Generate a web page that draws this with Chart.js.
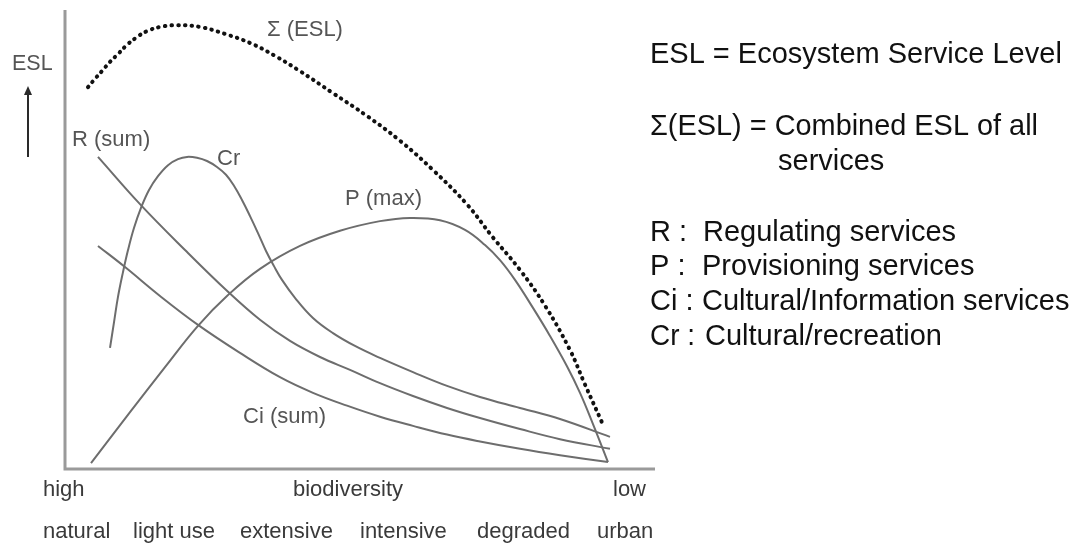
<!DOCTYPE html>
<html lang="en">
<head>
<meta charset="UTF-8">
<title>Ecosystem Service Level</title>
<script src="https://cdn.jsdelivr.net/npm/chart.js"></script>
<style>
  * { margin: 0; padding: 0; }
  body { background: #fff; }
  .chartBox { width: 1081px; height: 544px; position: relative; }
</style>
</head>
<body>
<div class="chartBox">
  <canvas id="myChart"></canvas>
</div>
<script>
// biodiversity gradient (0 = high, 100 = low) and service level (0..100)
const sumX = [3.9, 5.08, 6.27, 7.63, 8.98, 10.51, 12.2, 13.9, 16.1, 19.0, 22.9, 27.1, 31.4, 35.6, 39.8, 45.4, 51.2, 56.8, 62.4, 68.1, 72.5, 77.1, 81.4, 85.6, 88.1, 91.0];
const sumY = [83.2, 85.0, 86.7, 88.7, 90.4, 92.4, 94.1, 95.4, 96.3, 96.7, 96.3, 94.8, 92.8, 90.0, 86.7, 81.9, 76.9, 71.5, 65.1, 57.7, 50.5, 43.4, 35.5, 25.9, 18.5, 10.2];

const crX = [7.63, 8.31, 8.98, 9.83, 10.68, 11.69, 12.88, 14.24, 15.76, 17.46, 19.15, 20.68, 22.37, 24.07, 25.76, 27.29, 28.64, 30.0, 31.36, 32.71, 34.07, 35.42, 36.78, 38.98, 42.03, 45.42, 49.15, 53.39, 58.98, 64.75, 70.34, 77.12, 83.9, 92.37];
const crY = [26.4, 32.0, 37.5, 42.9, 47.7, 52.5, 56.9, 60.8, 63.8, 66.2, 67.5, 68.0, 67.8, 67.1, 65.8, 64.1, 61.7, 58.6, 55.1, 51.4, 47.5, 44.2, 41.2, 37.3, 32.9, 29.6, 26.8, 24.2, 21.1, 18.1, 15.7, 13.3, 10.9, 7.0];

const rX = [5.59, 12.71, 20.34, 27.63, 33.05, 38.14, 43.22, 48.31, 53.39, 58.98, 64.75, 70.34, 77.12, 83.9, 92.37];
const rY = [68.0, 57.7, 47.7, 38.6, 32.5, 27.9, 24.4, 21.6, 18.7, 15.9, 13.3, 11.1, 8.7, 6.5, 4.4];

const ciX = [5.59, 10.17, 16.1, 22.54, 29.66, 36.44, 42.03, 47.8, 53.39, 58.98, 64.75, 70.34, 77.12, 83.9, 92.03];
const ciY = [48.6, 44.0, 37.7, 31.4, 25.3, 20.0, 16.6, 13.8, 11.4, 9.4, 7.5, 6.0, 4.4, 3.0, 1.5];

const pX = [4.41, 11.02, 16.95, 22.54, 27.63, 33.05, 39.83, 46.61, 53.39, 58.47, 63.56, 67.8, 71.19, 73.73, 76.27, 79.32, 82.2, 85.08, 87.29, 89.49, 92.03];
const pY = [1.3, 12.4, 22.2, 31.2, 37.9, 43.6, 48.6, 51.9, 54.0, 54.7, 54.2, 52.1, 48.8, 45.5, 41.2, 35.1, 29.0, 22.4, 16.6, 9.8, 1.5];

const seriesNames = ['Cr', 'R (sum)', 'Ci (sum)', 'P (max)', 'Σ (ESL)'];
const stageLabels = ['natural', 'light use', 'extensive', 'intensive', 'degraded', 'urban'];
const gradientLabels = ['high', 'biodiversity', 'low'];
const legendLines = [
  ['ESL = Ecosystem Service Level', ''],
  ['Σ(ESL) = Combined ESL of all', ''],
  ['', 'services'],
  ['R :', 'Regulating services'],
  ['P :', 'Provisioning services'],
  ['Ci :', 'Cultural/Information services'],
  ['Cr :', 'Cultural/recreation']
];

function pts(xs, ys) {
  return xs.map((x, i) => ({ x: x, y: ys[i] }));
}

const gray = '#6d6d6d';
const FONT = '"Liberation Sans", Arial, sans-serif';

function grayLine(label, data) {
  return {
    label: label,
    data: data,
    borderColor: gray,
    borderWidth: 2,
    pointRadius: 0,
    tension: 0.4,
    fill: false
  };
}

// axes, arrow and all text
const decorations = {
  id: 'decorations',
  beforeDatasetsDraw(chart) {
    const ctx = chart.ctx;
    const xs = chart.scales.x, ys = chart.scales.y;
    ctx.save();
    ctx.strokeStyle = '#9a9a9a';
    ctx.lineWidth = 3;
    ctx.beginPath();
    ctx.moveTo(xs.getPixelForValue(0), ys.getPixelForValue(100));
    ctx.lineTo(xs.getPixelForValue(0), ys.getPixelForValue(0));
    ctx.lineTo(xs.getPixelForValue(100), ys.getPixelForValue(0));
    ctx.stroke();
    ctx.restore();
  },
  afterDraw(chart) {
    const ctx = chart.ctx;
    ctx.save();

    // ESL arrow
    ctx.strokeStyle = '#2a2a2a';
    ctx.fillStyle = '#2a2a2a';
    ctx.lineWidth = 2;
    ctx.beginPath();
    ctx.moveTo(28, 157);
    ctx.lineTo(28, 92);
    ctx.stroke();
    ctx.beginPath();
    ctx.moveTo(28, 86);
    ctx.lineTo(24, 95);
    ctx.lineTo(32, 95);
    ctx.closePath();
    ctx.fill();

    // chart labels
    ctx.fillStyle = '#555';
    ctx.textBaseline = 'alphabetic';
    ctx.font = '21.5px ' + FONT;
    ctx.fillText('ESL', 12, 70);
    ctx.font = '22px ' + FONT;
    ctx.fillText(seriesNames[4], 267, 36);
    ctx.fillText(seriesNames[1], 72, 146);
    ctx.fillText(seriesNames[0], 217, 165);
    ctx.fillText(seriesNames[3], 345, 205);
    ctx.fillText(seriesNames[2], 243, 423);

    // bottom texts
    ctx.fillStyle = '#3a3a3a';
    ctx.font = '22px ' + FONT;
    const gx = [43, 293, 613];
    gradientLabels.forEach((t, i) => ctx.fillText(t, gx[i], 496));
    const sx = [43, 133, 240, 360, 477, 597];
    stageLabels.forEach((t, i) => ctx.fillText(t, sx[i], 538));

    // legend text on the right
    ctx.fillStyle = '#111';
    ctx.font = '29px ' + FONT;
    const by = [63, 135, 170, 241, 275, 310, 345];
    const w1 = [417, 388, 0, 40, 40, 45, 45];
    const x2 = [0, 0, 778, 703, 702, 702, 705];
    const w2 = [0, 0, 111, 257, 278, 373, 238];
    legendLines.forEach((ln, i) => {
      if (ln[0]) ctx.fillText(ln[0], 650, by[i], w1[i]);
      if (ln[1]) ctx.fillText(ln[1], x2[i], by[i], w2[i]);
    });
    ctx.restore();
  }
};

const data = {
  datasets: [
    grayLine(seriesNames[0], pts(crX, crY)),
    grayLine(seriesNames[1], pts(rX, rY)),
    grayLine(seriesNames[2], pts(ciX, ciY)),
    grayLine(seriesNames[3], pts(pX, pY)),
    {
      label: seriesNames[4],
      data: pts(sumX, sumY),
      borderColor: '#111',
      borderWidth: 4,
      borderDash: [0.5, 6.2],
      borderCapStyle: 'round',
      pointRadius: 0,
      tension: 0.4,
      fill: false
    }
  ]
};

const config = {
  type: 'line',
  data,
  options: {
    responsive: true,
    maintainAspectRatio: false,
    animation: false,
    layout: { padding: { left: 65, right: 426, top: 10, bottom: 75 } },
    scales: {
      x: { type: 'linear', min: 0, max: 100, display: false },
      y: { type: 'linear', min: 0, max: 100, display: false }
    },
    plugins: {
      legend: { display: false },
      tooltip: { enabled: false }
    }
  },
  plugins: [decorations]
};

const myChart = new Chart(document.getElementById('myChart'), config);
</script>
</body>
</html>
